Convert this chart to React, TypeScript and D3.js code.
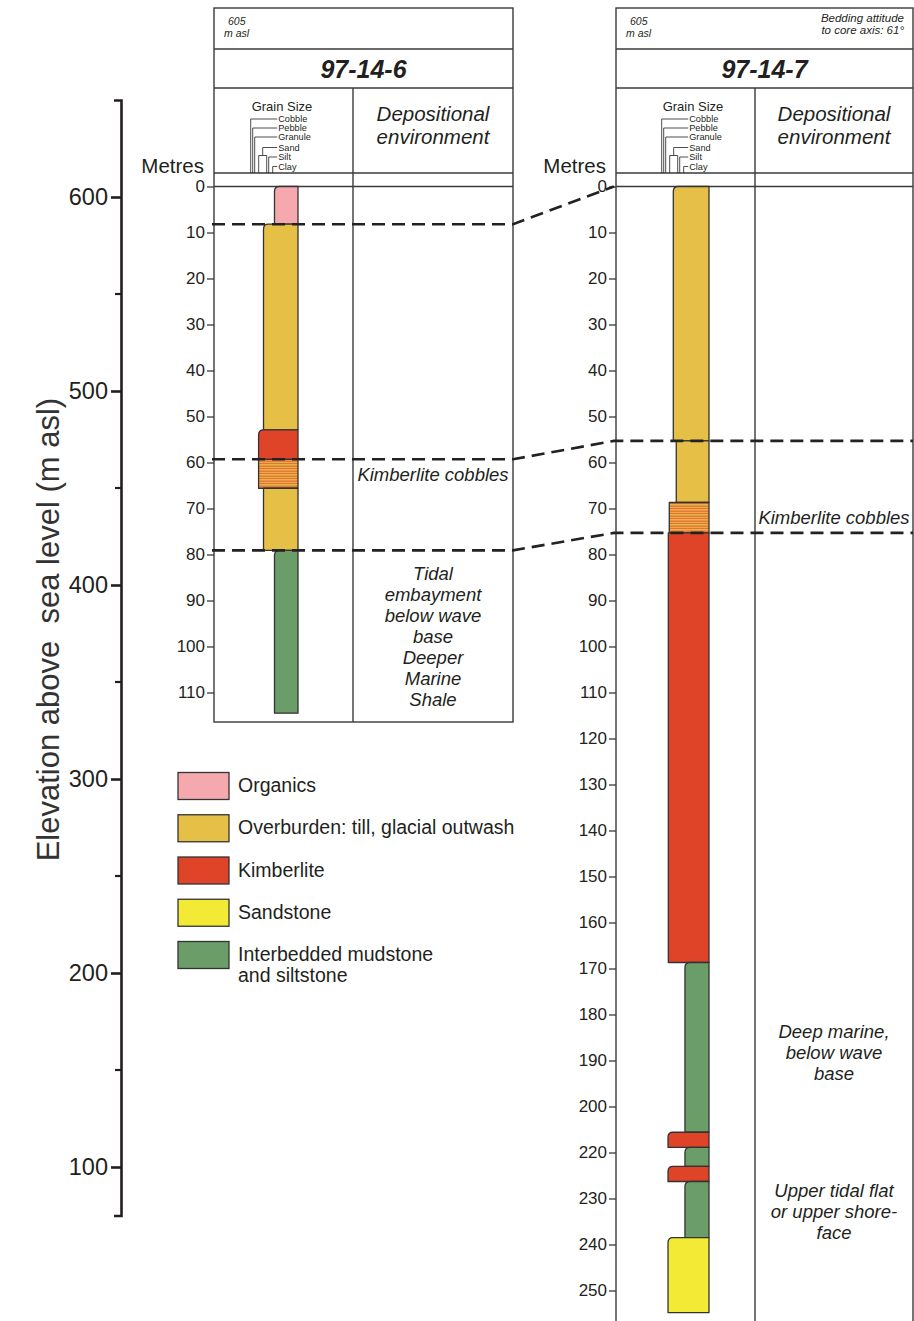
import React, { useEffect, useRef } from 'react';
import * as d3 from 'd3';

const W = 914;
const H = 1321;
const FONT = "'Liberation Sans', Arial, Helvetica, sans-serif";
const INK = '#231f20';

// elevation axis (m asl)
const elevDomain = [650, 75];
const elevTicks = [100, 200, 300, 400, 500, 600];
const elevMinorTicks = [150, 250, 350, 450, 550];

// lithologies + legend
const lithoKeys = ['organics', 'overburden', 'kimberlite', 'sandstone', 'mudstone'];
const lithoColors = ['#f5a8ae', '#e6bf47', '#e04428', '#f3ea36', '#6a9d67'];
const legendLabels = [
  ['Organics'],
  ['Overburden: till, glacial outwash'],
  ['Kimberlite'],
  ['Sandstone'],
  ['Interbedded mudstone', 'and siltstone'],
];

// grain size classes (1 = silt/clay, 2 = sand, 3 = granule)
const grainLabels = ['Cobble', 'Pebble', 'Granule', 'Sand', 'Silt', 'Clay'];

// hole 97-14-6, depth in metres
const hole6Layers = [
  { top: 0, base: 8.2, litho: 'organics', grain: 1 },
  { top: 8.2, base: 52.9, litho: 'overburden', grain: 2 },
  { top: 52.9, base: 59.3, litho: 'kimberlite', grain: 2.82 },
  { top: 59.3, base: 65.6, litho: 'cobbles', grain: 2.82 },
  { top: 65.6, base: 79.1, litho: 'overburden', grain: 2 },
  { top: 79.1, base: 114.5, litho: 'mudstone', grain: 1 },
];
const hole6TickLabels = ['0', '10', '20', '30', '40', '50', '60', '70', '80', '90', '100', '110'];
const hole6Env = [
  { depth: 64, lines: ['Kimberlite cobbles'] },
  { depth: 85.6, lines: ['Tidal', 'embayment', 'below wave', 'base'] },
  { depth: 103.9, lines: ['Deeper', 'Marine', 'Shale'] },
];

// hole 97-14-7
const hole7Layers = [
  { top: 0, base: 55.3, litho: 'overburden', grain: 2.2 },
  { top: 55.3, base: 68.7, litho: 'overburden', grain: 1.84 },
  { top: 68.7, base: 75.3, litho: 'cobbles', grain: 2.87 },
  { top: 75.3, base: 168.7, litho: 'kimberlite', grain: 3.03 },
  { top: 168.7, base: 205.6, litho: 'mudstone', grain: 1.05 },
  { top: 205.6, base: 208.9, litho: 'kimberlite', grain: 3.08 },
  { top: 208.9, base: 213.0, litho: 'mudstone', grain: 1.05 },
  { top: 213.0, base: 216.3, litho: 'kimberlite', grain: 3.08 },
  { top: 216.3, base: 228.5, litho: 'mudstone', grain: 1.05 },
  { top: 228.5, base: 244.8, litho: 'sandstone', grain: 3.08 },
];
const hole7TickLabels = ['0', '10', '20', '30', '40', '50', '60', '70', '80', '90', '100', '110', '120',
  '130', '140', '150', '160', '170', '180', '190', '200', '220', '230', '240', '250'];
const hole7Env = [
  { depth: 73.3, lines: ['Kimberlite cobbles'] },
  { depth: 185, lines: ['Deep marine,', 'below wave', 'base'] },
  { depth: 219.6, lines: ['Upper tidal flat', 'or upper shore-', 'face'] },
];

// correlation (dashed) between the holes: depth in 97-14-6 -> depth in 97-14-7
const correlations = [
  { left: 8.2, right: 0, across: false },
  { left: 59.3, right: 55.3, across: true },
  { left: 79.1, right: 75.3, across: true },
];

const columns = [
  { id: '97-14-6', x: 214, w: 299, envX: 353, lithoRight: 298, bottom: 722,
    layers: hole6Layers, ticks: hole6TickLabels, env: hole6Env, note: [] as string[] },
  { id: '97-14-7', x: 616, w: 297, envX: 755, lithoRight: 709, bottom: 1330,
    layers: hole7Layers, ticks: hole7TickLabels, env: hole7Env,
    note: ['Bedding attitude', 'to core axis: 61°'] },
];

const App = () => {
  const svgRef = useRef<SVGSVGElement>(null);

  useEffect(() => {
    const svg = d3.select(svgRef.current);
    svg.selectAll('*').remove();
    svg.attr('font-family', FONT);

    const depthY = d3.scaleLinear().domain([0, 100]).range([186.5, 646.5]);
    const elevY = d3.scaleLinear().domain(elevDomain).range([100, 1215.5]);
    const grainW = d3.scaleLinear().domain([1, 2, 3]).range([23.5, 34.5, 40.5]);
    const fillOf = d3.scaleOrdinal<string, string>().domain(lithoKeys).range(lithoColors);

    // hatch for kimberlite cobbles
    const pat = svg.append('defs').append('pattern')
      .attr('id', 'cobbles')
      .attr('patternUnits', 'userSpaceOnUse')
      .attr('width', 8).attr('height', 2.5);
    pat.append('rect').attr('width', 8).attr('height', 2.5).attr('fill', '#e8bd4a');
    pat.append('rect').attr('y', 0.6).attr('width', 8).attr('height', 0.9).attr('fill', '#e5482c');

    // ---- elevation axis
    const elevG = svg.append('g').attr('transform', 'translate(121,0)');
    elevG.call(d3.axisLeft(elevY).tickValues(elevTicks).tickSize(10).tickSizeOuter(7).tickPadding(3) as any);
    elevG.select('.domain').attr('stroke', INK).attr('stroke-width', 2.6);
    elevG.selectAll('.tick line').attr('stroke', INK).attr('stroke-width', 2.6);
    elevG.selectAll('.tick text').attr('font-size', 23.5).attr('fill', INK).attr('font-family', FONT);
    elevG.selectAll('.minor').data(elevMinorTicks).enter().append('line')
      .attr('class', 'minor')
      .attr('x1', -6).attr('x2', 0)
      .attr('y1', d => elevY(d)).attr('y2', d => elevY(d))
      .attr('stroke', INK).attr('stroke-width', 2.2);

    svg.append('text')
      .attr('transform', `translate(59,${elevY(377)}) rotate(-90)`)
      .attr('text-anchor', 'middle')
      .attr('font-size', 31)
      .attr('fill', '#333')
      .style('white-space', 'pre')
      .text('Elevation above  sea level (m asl)');

    // ---- columns
    columns.forEach(col => {
      const g = svg.append('g');
      const x0 = col.x, x1 = col.x + col.w;
      const stroke = '#3a3a3a';

      // frame
      g.append('rect').attr('x', x0).attr('y', 8).attr('width', col.w).attr('height', col.bottom - 8)
        .attr('fill', 'none').attr('stroke', stroke).attr('stroke-width', 1.4);
      [49, 88, 173, depthY(0)].forEach(y => {
        g.append('line').attr('x1', x0).attr('x2', x1).attr('y1', y).attr('y2', y)
          .attr('stroke', stroke).attr('stroke-width', 1.4);
      });
      g.append('line').attr('x1', col.envX).attr('x2', col.envX).attr('y1', 88).attr('y2', col.bottom)
        .attr('stroke', stroke).attr('stroke-width', 1.4);

      // header texts
      g.append('text').attr('x', x0 + 14).attr('y', 25).attr('font-size', 10.5)
        .attr('font-style', 'italic').attr('fill', INK).text('605');
      g.append('text').attr('x', x0 + 10).attr('y', 37).attr('font-size', 10.5)
        .attr('font-style', 'italic').attr('fill', INK).text('m asl');
      col.note.forEach((t, i) => {
        g.append('text').attr('x', x1 - 9).attr('y', 22 + i * 12).attr('text-anchor', 'end')
          .attr('font-size', 11.5).attr('font-style', 'italic').attr('fill', INK).text(t);
      });
      g.append('text').attr('x', (x0 + x1) / 2).attr('y', 78).attr('text-anchor', 'middle')
        .attr('font-size', 25).attr('font-weight', 'bold').attr('font-style', 'italic')
        .attr('fill', INK).text(col.id);
      g.append('text').attr('x', (col.envX + x1) / 2).attr('y', 121).attr('text-anchor', 'middle')
        .attr('font-size', 20.5).attr('font-style', 'italic').attr('fill', INK).text('Depositional');
      g.append('text').attr('x', (col.envX + x1) / 2).attr('y', 144).attr('text-anchor', 'middle')
        .attr('font-size', 20.5).attr('font-style', 'italic').attr('fill', INK).text('environment');

      // grain size key
      const L = col.lithoRight - 47.3;
      const lx = L + 27.5;
      g.append('text').attr('x', col.lithoRight - 16).attr('y', 111).attr('text-anchor', 'middle')
        .attr('font-size', 13).attr('fill', INK).text('Grain Size');
      const keyLine = (pts: [number, number][]) =>
        g.append('path').attr('d', d3.line()(pts)).attr('fill', 'none').attr('stroke', INK).attr('stroke-width', 0.8);
      const ky = [119, 128, 137, 147.5, 157, 166.5];
      keyLine([[L, 173], [L, ky[0]], [lx - 1, ky[0]]]);
      keyLine([[L + 2, 173], [L + 2, ky[1]], [lx - 1, ky[1]]]);
      keyLine([[L + 4, 173], [L + 4, ky[2]], [lx - 1, ky[2]]]);
      keyLine([[L + 8, 173], [L + 8, 155.5], [L + 16, 155.5], [L + 16, 173]]);
      keyLine([[L + 12, 155.5], [L + 12, ky[3]], [lx - 1, ky[3]]]);
      keyLine([[L + 18, 173], [L + 18, ky[4]], [lx - 1, ky[4]]]);
      keyLine([[L + 22, 173], [L + 22, ky[5]], [lx - 1, ky[5]]]);
      grainLabels.forEach((t, i) => {
        g.append('text').attr('x', lx).attr('y', ky[i] + 3.3).attr('font-size', 9.2)
          .attr('fill', INK).text(t);
      });

      // depth axis
      g.append('text').attr('x', x0 - 10).attr('y', 173).attr('text-anchor', 'end')
        .attr('font-size', 20.5).attr('fill', INK).text('Metres');
      const tickDepths = col.ticks.map((_, i) => i * 10);
      const ax = g.append('g').attr('transform', `translate(${x0},0)`);
      ax.call(d3.axisLeft(depthY).tickValues(tickDepths)
        .tickFormat((_d, i) => col.ticks[i]).tickSize(7).tickPadding(2) as any);
      ax.select('.domain').remove();
      ax.selectAll('.tick line').attr('stroke', stroke).attr('stroke-width', 1.3);
      ax.selectAll('.tick text').attr('font-size', 17).attr('fill', INK).attr('font-family', FONT);

      // lithology blocks
      col.layers.forEach((d, i) => {
        const prev = col.layers[i - 1];
        const rounded = !prev || (prev.litho !== d.litho && prev.litho !== 'cobbles' && d.litho !== 'cobbles');
        const xr = col.lithoRight;
        const xl = xr - grainW(d.grain);
        const yt = depthY(d.top);
        const yb = depthY(d.base);
        const r = rounded ? 5 : 0;
        const p = d3.path();
        p.moveTo(xl + r, yt);
        p.lineTo(xr, yt);
        p.lineTo(xr, yb);
        p.lineTo(xl, yb);
        p.lineTo(xl, yt + r);
        if (r) p.quadraticCurveTo(xl, yt, xl + r, yt);
        p.closePath();
        g.append('path').attr('d', p.toString())
          .attr('fill', d.litho === 'cobbles' ? 'url(#cobbles)' : fillOf(d.litho))
          .attr('stroke', '#333').attr('stroke-width', 1.3).attr('stroke-linejoin', 'round');
      });

      // depositional environment notes
      col.env.forEach(e => {
        const t = g.append('text').attr('text-anchor', 'middle').attr('font-size', 18.5)
          .attr('font-style', 'italic').attr('fill', INK);
        e.lines.forEach((line, i) => {
          t.append('tspan').attr('x', (col.envX + x1) / 2).attr('y', depthY(e.depth) + i * 21).text(line);
        });
      });
    });

    // ---- correlation lines
    const [c6, c7] = columns;
    correlations.forEach(c => {
      const pts: [number, number][] = [
        [c6.x - 2, depthY(c.left)],
        [c6.x + c6.w, depthY(c.left)],
        [c7.x - 2, depthY(c.right)],
      ];
      if (c.across) pts.push([c7.x + c7.w, depthY(c.right)]);
      svg.append('path').attr('d', d3.line()(pts))
        .attr('fill', 'none').attr('stroke', '#222').attr('stroke-width', 2.6)
        .attr('stroke-dasharray', '13,7');
    });

    // ---- legend
    const legY = d3.scaleLinear().domain([0, 4]).range([772.5, 941.5]);
    const leg = svg.append('g');
    legendLabels.forEach((lines, i) => {
      leg.append('rect').attr('x', 178).attr('y', legY(i)).attr('width', 51).attr('height', 27)
        .attr('fill', lithoColors[i]).attr('stroke', '#333').attr('stroke-width', 1.3);
      lines.forEach((t, j) => {
        leg.append('text').attr('x', 238).attr('y', legY(i) + 19.5 + j * 21).attr('font-size', 19.5)
          .attr('fill', INK).text(t);
      });
    });
  }, []);

  return (
    <div style={{ position: 'absolute', left: 0, top: 0, width: W, height: H, background: '#fff' }}>
      <svg ref={svgRef} width={W} height={H} />
    </div>
  );
};

export default App;
